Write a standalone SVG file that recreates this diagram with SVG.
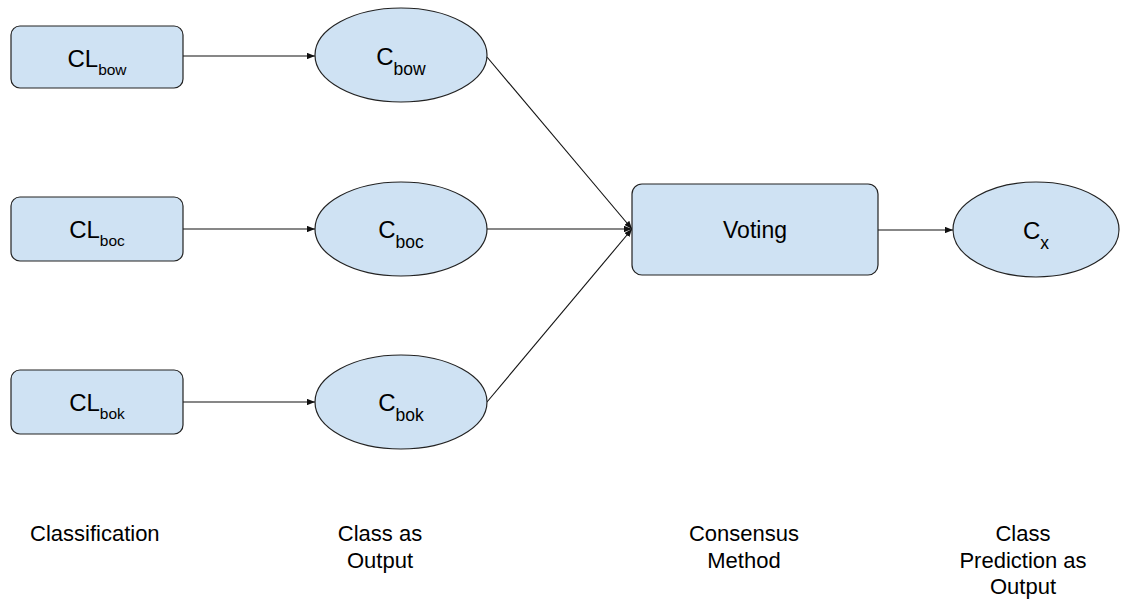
<svg xmlns="http://www.w3.org/2000/svg" width="1122" height="601" viewBox="0 0 1122 601">
<style>
.box{fill:#cfe2f3;stroke:#222;stroke-width:1.2}
.t{font-family:"Liberation Sans",Arial,sans-serif;fill:#000}
.m{font-size:24px}
.s{font-size:15.5px}
.es{font-size:17.5px}
.lbl{font-family:"Liberation Sans",Arial,sans-serif;font-size:22px;fill:#000}
.c{stroke:#111;stroke-width:1.1;fill:none;marker-end:url(#ah)}
</style>
<defs>
<marker id="ah" viewBox="0 0 10 8" refX="10" refY="4" markerWidth="8" markerHeight="6.4" markerUnits="userSpaceOnUse" orient="auto">
<path d="M0,0 L10,4 L0,8 z" fill="#111"/>
</marker>
</defs>
<g id="connectors">
<line class="c" x1="183" y1="56" x2="315" y2="56"/>
<line class="c" x1="183" y1="229" x2="315" y2="229"/>
<line class="c" x1="183" y1="402" x2="315" y2="402"/>
<line class="c" x1="487" y1="57" x2="632" y2="229"/>
<line class="c" x1="487" y1="229" x2="632" y2="229"/>
<line class="c" x1="487" y1="402" x2="632" y2="229"/>
<line class="c" x1="878" y1="230" x2="953" y2="230"/>
</g>
<g id="CL_bow">
<rect class="box" x="11" y="26" width="172" height="62" rx="9"/>
<text class="t" x="97" y="67" text-anchor="middle"><tspan class="m">CL</tspan><tspan class="s" dy="7.5">bow</tspan></text>
</g>
<g id="CL_boc">
<rect class="box" x="11" y="197" width="172" height="64" rx="9"/>
<text class="t" x="97" y="238" text-anchor="middle"><tspan class="m">CL</tspan><tspan class="s" dy="7.5">boc</tspan></text>
</g>
<g id="CL_bok">
<rect class="box" x="11" y="370" width="172" height="64" rx="9"/>
<text class="t" x="97" y="411" text-anchor="middle"><tspan class="m">CL</tspan><tspan class="s" dy="7.5">bok</tspan></text>
</g>
<g id="C_bow">
<ellipse class="box" cx="401" cy="55" rx="86" ry="47"/>
<text class="t" x="401" y="65" text-anchor="middle"><tspan class="m">C</tspan><tspan class="es" dy="10">bow</tspan></text>
</g>
<g id="C_boc">
<ellipse class="box" cx="401" cy="229" rx="86" ry="47"/>
<text class="t" x="401" y="238" text-anchor="middle"><tspan class="m">C</tspan><tspan class="es" dy="10">boc</tspan></text>
</g>
<g id="C_bok">
<ellipse class="box" cx="401" cy="402" rx="86" ry="47"/>
<text class="t" x="401" y="411" text-anchor="middle"><tspan class="m">C</tspan><tspan class="es" dy="10">bok</tspan></text>
</g>
<g id="Voting">
<rect class="box" x="632" y="184" width="246" height="91" rx="10"/>
<text class="t" x="755" y="238" text-anchor="middle" font-size="23">Voting</text>
</g>
<g id="C_x">
<ellipse class="box" cx="1036" cy="229.5" rx="83" ry="47.5"/>
<text class="t" x="1036" y="239" text-anchor="middle"><tspan class="m">C</tspan><tspan class="es" dy="10">x</tspan></text>
</g>
<g id="labels">
<text class="lbl" x="30" y="541">Classification</text>
<text class="lbl" x="380" y="541" text-anchor="middle">Class as</text>
<text class="lbl" x="380" y="568" text-anchor="middle">Output</text>
<text class="lbl" x="744" y="541" text-anchor="middle">Consensus</text>
<text class="lbl" x="744" y="568" text-anchor="middle">Method</text>
<text class="lbl" x="1023" y="541" text-anchor="middle">Class</text>
<text class="lbl" x="1023" y="568" text-anchor="middle">Prediction as</text>
<text class="lbl" x="1023" y="594" text-anchor="middle">Output</text>
</g>
</svg>
